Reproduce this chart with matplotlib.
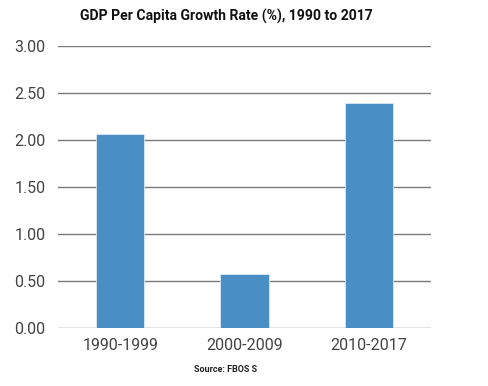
import matplotlib.pyplot as plt

periods = ["1990-1999", "2000-2009", "2010-2017"]
growth = [2.06, 0.57, 2.39]
yticks = [0.0, 0.5, 1.0, 1.5, 2.0, 2.5, 3.0]

plt.rcParams['font.family'] = ['Roboto', 'DejaVu Sans']

fig = plt.figure(figsize=(4.88, 3.86), dpi=100)
ax = fig.add_axes([0.119, 0.150, 0.764, 0.731])

# bars
ax.bar(range(len(periods)), growth, width=0.39, color='#4a8ec6',
       edgecolor='#dbe8f3', linewidth=0.6, zorder=3)

ax.set_xlim(-0.5, len(periods) - 0.5)
ax.set_ylim(0, 3.0)
ax.set_yticks(yticks)
ax.set_yticklabels([f"{v:.2f}" for v in yticks])
ax.set_xticks(range(len(periods)))
ax.set_xticklabels(periods)

# horizontal gridlines only
ax.grid(axis='y', color='#7a7a7a', linewidth=1.0, zorder=0)
for s in ax.spines.values():
    s.set_visible(False)
ax.tick_params(axis='both', length=0, labelsize=11.5, colors='#444444')
ax.tick_params(axis='y', pad=9)
ax.tick_params(axis='x', pad=7)

fig.text(0.463, 0.958, "GDP Per Capita Growth Rate (%), 1990 to 2017",
         ha='center', va='center', fontsize=10.1, fontweight='bold', color='#111111')
fig.text(0.463, 0.042, "Source: FBOS S", ha='center', va='center',
         fontsize=6.5, fontweight='bold', color='#222222')

fig.savefig("out.png", dpi=100)
